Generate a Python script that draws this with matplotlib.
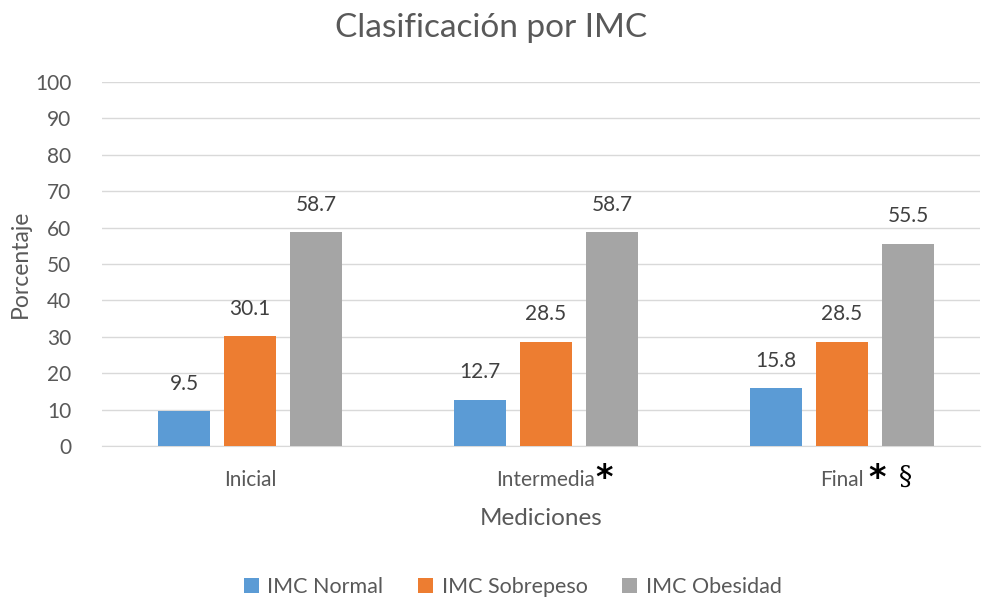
import matplotlib.pyplot as plt
import matplotlib.transforms as mtransforms
import numpy as np

categories = ["Inicial", "Intermedia", "Final"]
series_names = ["IMC Normal", "IMC Sobrepeso", "IMC Obesidad"]
normal = [9.5, 12.7, 15.8]
sobrepeso = [30.1, 28.5, 28.5]
obesidad = [58.7, 58.7, 55.5]
colors = ["#5B9BD5", "#ED7D31", "#A5A5A5"]

plt.rcParams['font.family'] = ['Lato', 'DejaVu Sans']
text_color = "#595959"

fig = plt.figure(figsize=(9.82, 5.97), dpi=100)
ax = fig.add_axes([102 / 982, 151 / 597, 878 / 982, 364 / 597])

x = np.arange(len(categories))
width = 0.176
step = 0.223
for i, (vals, name, col) in enumerate(zip([normal, sobrepeso, obesidad], series_names, colors)):
    pos = x + (i - 1) * step
    bars = ax.bar(pos, vals, width, color=col, label=name, zorder=3)
    for b, v in zip(bars, vals):
        ax.annotate(f"{v:.1f}", (b.get_x() + b.get_width() / 2, v), xytext=(0, 20),
                    textcoords="offset points", ha="center", va="center",
                    fontsize=15, color="#404040")

ax.set_ylim(0, 100)
ax.set_xlim(-0.5, 2.5 - 10 / 296)
ax.set_yticks(range(0, 101, 10))
ax.yaxis.grid(True, color="#D9D9D9", linewidth=1, zorder=0)
ax.tick_params(axis="y", length=0, labelsize=15, labelcolor=text_color, pad=22)
ax.tick_params(axis="x", length=0, labelsize=15, labelcolor=text_color, pad=17)
ax.set_xticks(x)
ax.set_xticklabels(categories)
for s in ["top", "right", "left"]:
    ax.spines[s].set_visible(False)
ax.spines["bottom"].set_color("#D9D9D9")

# significance marks next to tick labels
trans = mtransforms.blended_transform_factory(ax.transData, ax.transAxes)
ax.text(x[1] + 0.196, -0.09, "*", transform=trans, ha="center", va="center",
        fontsize=24, fontweight="bold", color="black", family="DejaVu Sans")
ax.text(x[2] + 0.118, -0.09, "*", transform=trans, ha="center", va="center",
        fontsize=24, fontweight="bold", color="black", family="DejaVu Sans")
ax.text(x[2] + 0.216, -0.083, "§", transform=trans, ha="center", va="center",
        fontsize=19, color="black", family="DejaVu Serif")

ax.set_xlabel("Mediciones", fontsize=17.5, color=text_color, labelpad=13)
ax.set_ylabel("Porcentaje", fontsize=16.5, color=text_color, labelpad=3)
fig.suptitle("Clasificación por IMC", fontsize=24, color=text_color, y=0.978)

leg = fig.legend(loc="lower center", ncol=3, frameon=False, fontsize=15.5,
                 bbox_to_anchor=(0.522, -0.033), handlelength=0.7, handleheight=0.7,
                 columnspacing=1.6, handletextpad=0.4)
for t in leg.get_texts():
    t.set_color(text_color)

fig.savefig("out.png", dpi=100)
